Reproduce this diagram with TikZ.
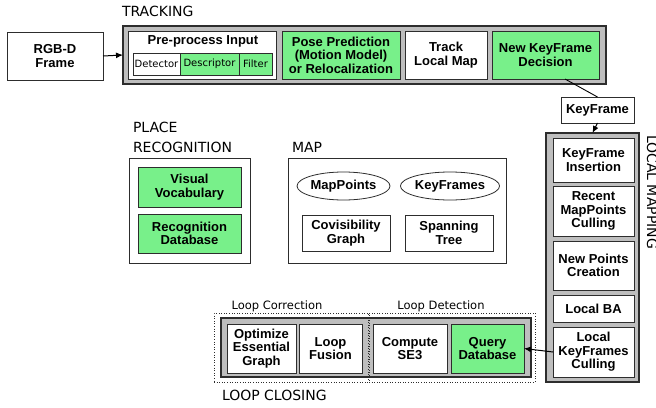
\documentclass[tikz,border=0pt]{standalone}
\usepackage{fontspec}
\setmainfont{DejaVu Sans}
\newfontfamily\libfont{Liberation Sans}
\usetikzlibrary{shapes.geometric,arrows.meta}
\definecolor{boxgreen}{RGB}{120,240,138}
\definecolor{boxgray}{RGB}{190,190,190}
\definecolor{edge}{RGB}{45,45,45}
\begin{document}
\begin{tikzpicture}[x=1pt,y=-1pt,
  every node/.style={inner sep=0pt,outer sep=0pt},
  graybox/.style={draw=edge,fill=boxgray,line width=1.1pt},
  wbox/.style={draw=edge,fill=white,line width=0.8pt,align=center,
    font=\libfont\bfseries\fontsize{13}{13.5}\selectfont},
  gbox/.style={wbox,fill=boxgreen},
  sub/.style={draw=edge,line width=0.6pt,font=\fontsize{10}{12}\selectfont},
  plain/.style={draw=edge,fill=white,line width=0.8pt},
  title/.style={font=\fontsize{14}{16}\selectfont},
  small/.style={font=\fontsize{11.5}{13}\selectfont},
  dotbox/.style={draw=edge,dotted,line width=0.6pt},
  arr/.style={draw=black,line width=1pt,-{Latex[length=7pt,width=6pt]}}
]
\useasboundingbox (0,0) rectangle (656,407);

% TRACKING
\node[title,anchor=base west] (trlab) at (122,16) {TRACKING};
\node[wbox,minimum width=96pt,minimum height=48pt] (rgbd) at (55,56) {RGB-D\\Frame};
\node[graybox,minimum width=483pt,minimum height=58pt] (track) at (364.5,55) {};
\node[plain,minimum width=148pt,minimum height=48pt] (pre) at (202,55) {};
\node[font=\libfont\bfseries\fontsize{13}{14}\selectfont] (pretxt) at (203,41) {Pre-process Input};
\node[sub,fill=white,minimum width=47pt,minimum height=22pt] (det) at (156.5,64) {Detector};
\node[sub,fill=boxgreen,minimum width=59pt,minimum height=22pt] (desc) at (209.5,64) {Descriptor};
\node[sub,fill=boxgreen,minimum width=33pt,minimum height=22pt] (filt) at (255.5,64) {Filter};
\node[gbox,minimum width=118pt,minimum height=48pt] (pose) at (341,55) {Pose Prediction\\(Motion Model)\\or Relocalization};
\node[wbox,minimum width=82pt,minimum height=48pt] (tlm) at (446,55) {Track\\Local Map};
\node[gbox,minimum width=107pt,minimum height=48pt] (nkf) at (545.5,55) {New KeyFrame\\Decision};
\node[wbox,minimum width=73pt,minimum height=26pt] (kf) at (597.5,110) {KeyFrame};

% LOCAL MAPPING
\node[graybox,minimum width=93pt,minimum height=249pt] (lm) at (592.5,257.5) {};
\node[wbox,minimum width=81pt,minimum height=44pt] (kfi) at (593.5,160) {KeyFrame\\Insertion};
\node[wbox,minimum width=81pt,minimum height=50pt] (rmc) at (593.5,211) {Recent\\MapPoints\\Culling};
\node[wbox,minimum width=81pt,minimum height=49pt] (npc) at (593.5,265.5) {New Points\\Creation};
\node[wbox,minimum width=81pt,minimum height=27pt] (lba) at (593.5,308.5) {Local BA};
\node[wbox,minimum width=81pt,minimum height=50pt] (lkc) at (593.5,352) {Local\\KeyFrames\\Culling};
\node[title,rotate=-90,anchor=base] (lmlab) at (647,192) {LOCAL MAPPING};

% PLACE RECOGNITION
\node[title,anchor=base west] (plab1) at (133,132) {PLACE};
\node[title,anchor=base west] (plab2) at (133,152) {RECOGNITION};
\node[plain,minimum width=121pt,minimum height=105pt] (pr) at (189.5,210.5) {};
\node[gbox,minimum width=103pt,minimum height=40pt] (vv) at (189.5,187) {Visual\\Vocabulary};
\node[gbox,minimum width=103pt,minimum height=39pt] (rd) at (189.5,233.5) {Recognition\\Database};

% MAP
\node[title,anchor=base west] (maplab) at (292,152) {MAP};
\node[plain,minimum width=218pt,minimum height=105pt] (map) at (397,210.5) {};
\node[wbox,ellipse,minimum width=93pt,minimum height=28pt] (mp) at (343.5,186) {MapPoints};
\node[wbox,ellipse,minimum width=94pt,minimum height=28pt] (kfs) at (450,186) {KeyFrames};
\node[wbox,minimum width=88pt,minimum height=36pt] (cg) at (346,233) {Covisibility\\Graph};
\node[wbox,minimum width=88pt,minimum height=36pt] (st) at (449,233) {Spanning\\Tree};

% LOOP CLOSING
\node[graybox,minimum width=310pt,minimum height=59pt] (lcg) at (376,347.5) {};
\node[dotbox,minimum width=154pt,minimum height=69pt] (lcorr) at (291,347.5) {};
\node[dotbox,minimum width=166pt,minimum height=69pt] (ldet) at (452,347.5) {};
\node[small] (lcorrlab) at (277,306) {Loop Correction};
\node[small] (ldetlab) at (441,306) {Loop Detection};
\node[wbox,minimum width=69pt,minimum height=49pt] (oeg) at (261.5,348.5) {Optimize\\Essential\\Graph};
\node[wbox,minimum width=63pt,minimum height=49pt] (lf) at (330.5,348.5) {Loop\\Fusion};
\node[wbox,minimum width=74pt,minimum height=49pt] (cse) at (410,348.5) {Compute\\SE3};
\node[gbox,minimum width=73pt,minimum height=49pt] (qd) at (487.5,348.5) {Query\\Database};
\node[title,anchor=base west] (lclab) at (222,400) {LOOP CLOSING};

% connectors
\draw[arr] (rgbd.east) -- (track.west);
\coordinate (nkfa) at (565,79);
\draw[draw=black,line width=0.9pt] (nkfa) -- (kf.north);
\draw[arr] (kf.south) -- (lm.north);
\draw[arr] (lkc.west) -- (qd.east);
\end{tikzpicture}
\end{document}
